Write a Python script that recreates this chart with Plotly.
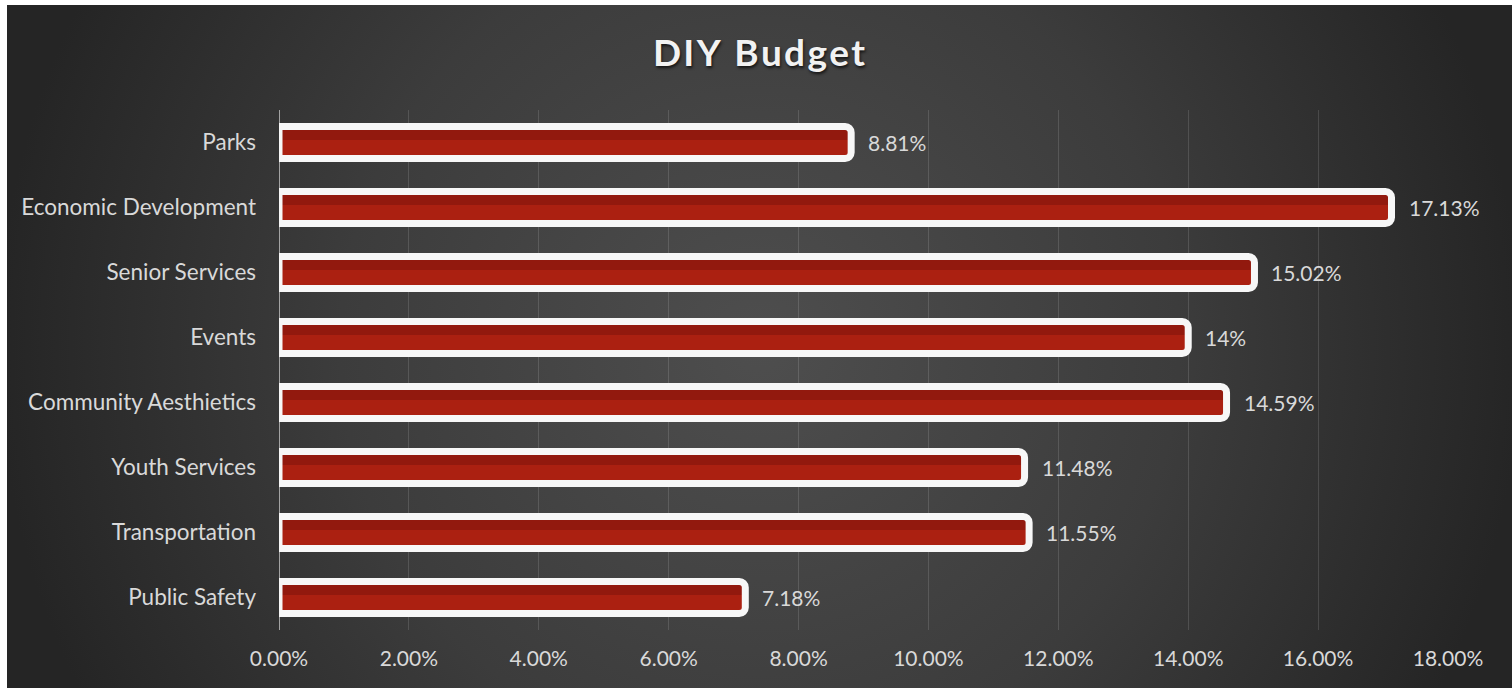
import base64
import plotly.graph_objects as go

# Budget shares per category (percent)
categories = ["Parks", "Economic Development", "Senior Services", "Events",
              "Community Aesthietics", "Youth Services", "Transportation", "Public Safety"]
shares = [8.81, 17.13, 15.02, 14, 14.59, 11.48, 11.55, 7.18]
tick_values = [0, 2, 4, 6, 8, 10, 12, 14, 16, 18]

W, H = 1512, 688
L, R, T, B = 279, 64, 110, 58
plot_w = W - L - R
plot_h = H - T - B

# Dark radial backdrop with a lighter centre
bg_w, bg_h = W - 7, H - 5
svg = f"""<svg xmlns='http://www.w3.org/2000/svg' width='{bg_w}' height='{bg_h}' viewBox='0 0 {bg_w} {bg_h}' preserveAspectRatio='none'>
<defs><radialGradient id='g' gradientUnits='userSpaceOnUse' cx='{bg_w/2}' cy='{bg_h/2}' r='{bg_w/2+10}'>
<stop offset='0' stop-color='#4e4e4e'/><stop offset='0.55' stop-color='#3c3c3c'/><stop offset='1' stop-color='#252525'/>
</radialGradient></defs><rect width='100%' height='100%' fill='url(#g)'/></svg>"""
bg_src = "data:image/svg+xml;base64," + base64.b64encode(svg.encode()).decode()

font = "Lato, 'Open Sans', sans-serif"
label_color = "#d9d9d9"
bar_w = 0.49

fig = go.Figure()
# red body of each bar
fig.add_trace(go.Bar(
    x=shares, y=categories, orientation="h", width=bar_w,
    marker=dict(color="#ab2011", line=dict(width=0)), hoverinfo="skip",
))
# soft darker shading along the upper part of the body
fig.add_trace(go.Bar(
    x=shares, y=categories, orientation="h", width=0.17, offset=-0.21,
    marker=dict(color="rgba(110,16,10,0.4)", line=dict(width=0)), hoverinfo="skip",
))
# white rounded frame on top
fig.add_trace(go.Bar(
    x=shares, y=categories, orientation="h", width=bar_w,
    marker=dict(color="rgba(0,0,0,0)", line=dict(color="#f7f7f7", width=7), cornerradius=6),
    hoverinfo="skip",
))

annotations = [
    dict(x=v, y=c, xref="x", yref="y", text=f"{v:g}%", showarrow=False,
         xanchor="left", yanchor="middle", xshift=15,
         font=dict(family=font, size=21, color=label_color))
    for c, v in zip(categories, shares)
]

title_text = "\u200a".join("DIY Budget")

fig.update_layout(
    width=W, height=H,
    margin=dict(l=L, r=R, t=T, b=B),
    paper_bgcolor="#ffffff",
    plot_bgcolor="rgba(0,0,0,0)",
    showlegend=False,
    barmode="overlay",
    title=dict(text=title_text, x=759 / W, xanchor="center", xref="container",
               y=1 - 53 / H, yanchor="middle", yref="container",
               font=dict(family=font, size=37, color="#f2f2f2", weight="bold",
                         shadow="1px 2px 3px rgba(0,0,0,0.7)")),
    xaxis=dict(range=[0, 18], tickvals=tick_values, ticktext=[f"{t:.2f}%" for t in tick_values],
               showgrid=True, gridcolor="rgba(255,255,255,0.13)", gridwidth=1,
               zeroline=False, showline=False, ticks="", ticklabelstandoff=14,
               tickfont=dict(family=font, size=21, color=label_color), fixedrange=True),
    yaxis=dict(categoryorder="array", categoryarray=categories, autorange="reversed",
               showgrid=False, zeroline=False, showline=False, ticks="",
               ticklabelstandoff=22,
               tickfont=dict(family=font, size=22.5, color=label_color), fixedrange=True),
    annotations=annotations,
    images=[dict(source=bg_src, xref="paper", yref="paper",
                 x=(7 - L) / plot_w, y=(H - B - 5) / plot_h,
                 sizex=bg_w / plot_w, sizey=bg_h / plot_h,
                 sizing="stretch", xanchor="left", yanchor="top", layer="below")],
    shapes=[dict(type="line", xref="x", yref="paper", x0=0, x1=0, y0=0, y1=1,
                 line=dict(color="rgba(200,200,200,0.75)", width=2), layer="below")],
)

fig.write_html("out.html")
